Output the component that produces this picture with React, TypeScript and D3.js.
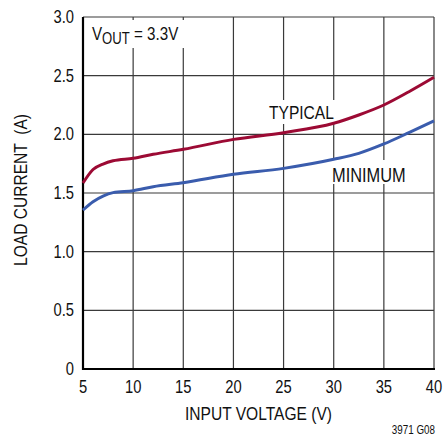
import React from "react";
import * as d3 from "d3";

// input voltage (V) sample points
const vinTypical = [5, 6, 7, 8, 10, 12, 15, 20, 25, 30, 32.5, 35, 37.5, 40];
const loadTypical = [1.585, 1.7, 1.747, 1.775, 1.796, 1.83, 1.872, 1.957, 2.014, 2.094, 2.165, 2.25, 2.363, 2.486];

const vinMinimum = [5, 6, 7, 8, 10, 12, 15, 20, 25, 30, 32.5, 35, 37.5, 40];
const loadMinimum = [1.355, 1.426, 1.474, 1.503, 1.52, 1.554, 1.588, 1.659, 1.71, 1.787, 1.838, 1.918, 2.014, 2.114];

const xTicks = [5, 10, 15, 20, 25, 30, 35, 40];
const yTicks = [0, 0.5, 1.0, 1.5, 2.0, 2.5, 3.0];

const FONT = "'Liberation Sans', Arial, sans-serif";
const RED = "#9c0a34";
const BLUE = "#3a5cad";
const SQ = 0.82; // horizontal squeeze to mimic a condensed face

// condensed text: positioned via transform, then squeezed on x
const NText = ({ x, y, anchor = "start", size, rotate = 0, children }: any) => (
  <g transform={`translate(${x},${y}) rotate(${rotate}) scale(${SQ},1)`}>
    <text x={0} y={0} fontSize={size} textAnchor={anchor} fill="#111" style={{ whiteSpace: "pre" }}>
      {children}
    </text>
  </g>
);

export default function App() {
  const width = 445;
  const height = 438;
  const margin = { top: 17, right: 11, bottom: 69, left: 83 };

  const x = d3.scaleLinear().domain([5, 40]).range([margin.left, width - margin.right]);
  const y = d3.scaleLinear().domain([0, 3]).range([height - margin.bottom, margin.top]);

  const line = d3
    .line<[number, number]>()
    .x((d) => x(d[0]))
    .y((d) => y(d[1]))
    .curve(d3.curveMonotoneX);

  const typ = vinTypical.map((v, i) => [v, loadTypical[i]] as [number, number]);
  const min = vinMinimum.map((v, i) => [v, loadMinimum[i]] as [number, number]);

  const x0 = x(5), x1 = x(40), y0 = y(0), y1 = y(3);

  return (
    <svg
      width={width}
      height={height}
      style={{ position: "absolute", left: 0, top: 0, background: "#fff" }}
      fontFamily={FONT}
    >
      {/* grid */}
      {xTicks.map((t) => (
        <line key={"gx" + t} x1={x(t)} x2={x(t)} y1={y1} y2={y0} stroke="#3a3a3a" strokeWidth={1.2} />
      ))}
      {yTicks.map((t) => (
        <line key={"gy" + t} x1={x0} x2={x1} y1={y(t)} y2={y(t)} stroke="#3a3a3a" strokeWidth={1.2} />
      ))}

      {/* label masks */}
      <rect x={86} y={20} width={102} height={28} fill="#fff" />
      <rect x={265} y={100} width={72} height={24} fill="#fff" />
      <rect x={329} y={160} width={81} height={24} fill="#fff" />

      {/* frame */}
      <line x1={x0} x2={x0} y1={y1} y2={y0 + 1} stroke="#000" strokeWidth={2.2} />
      <line x1={x0 - 1} x2={x1 + 1} y1={y0} y2={y0} stroke="#000" strokeWidth={2.2} />

      {/* curves */}
      <path d={line(typ) || ""} fill="none" stroke={RED} strokeWidth={3} strokeLinejoin="round" />
      <path d={line(min) || ""} fill="none" stroke={BLUE} strokeWidth={3} strokeLinejoin="round" />

      {/* tick labels */}
      {xTicks.map((t) => (
        <NText key={"tx" + t} x={x(t)} y={y0 + 24} size={18} anchor="middle">
          {String(t)}
        </NText>
      ))}
      {yTicks.map((t) => (
        <NText key={"ty" + t} x={x0 - 9} y={y(t) + 6} size={18} anchor="end">
          {t === 0 ? "0" : t.toFixed(1)}
        </NText>
      ))}

      {/* axis titles */}
      <NText x={(x0 + x1) / 2} y={420} size={19} anchor="middle">
        INPUT VOLTAGE (V)
      </NText>
      <NText x={27} y={(y0 + y1) / 2 - 3} size={19} anchor="middle" rotate={-90}>
        LOAD CURRENT  (A)
      </NText>

      {/* annotations */}
      <g transform={`translate(92,40) scale(${SQ},1)`}>
        <text x={0} y={0} fontSize={18.5} fill="#111" style={{ whiteSpace: "pre" }}>
          V<tspan fontSize={16} dy={4}>OUT</tspan>
          <tspan dy={-4}> = 3.3V</tspan>
        </text>
      </g>
      <NText x={269} y={119} size={19}>TYPICAL</NText>
      <NText x={332} y={182} size={20}>MINIMUM</NText>
      <NText x={435} y={434} size={12} anchor="end">3971 G08</NText>
    </svg>
  );
}
